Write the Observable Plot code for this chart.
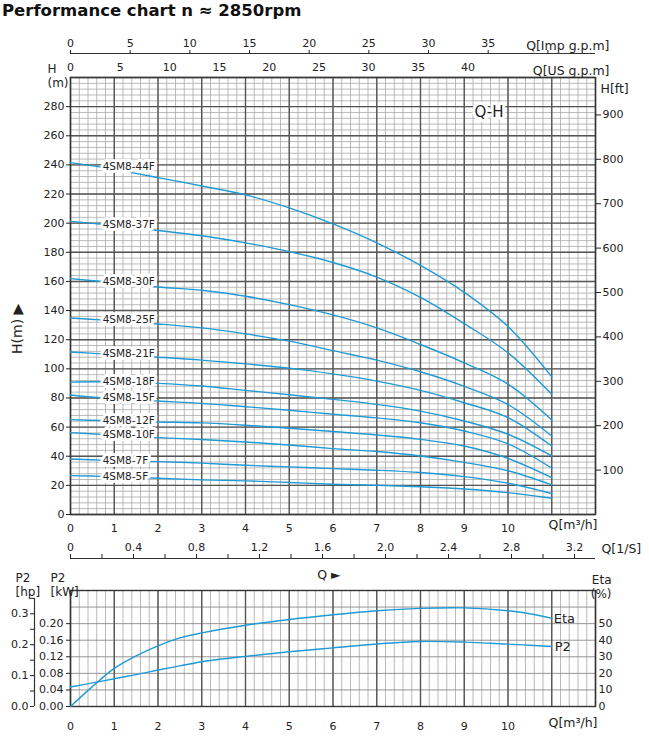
<!DOCTYPE html>
<html><head><meta charset="utf-8">
<script src="https://cdn.jsdelivr.net/npm/d3@7"></script>
<script src="https://cdn.jsdelivr.net/npm/@observablehq/plot@0.6"></script>
<style>
html,body{margin:0;padding:0;background:#fff;overflow:hidden}
#title{height:28px;font-family:"DejaVu Sans",sans-serif;font-weight:bold;font-size:16.5px;line-height:21px;padding-left:2px;color:#111;white-space:nowrap}
svg{display:block}
</style></head><body>
<div id="title">Performance chart n ≈ 2850rpm</div>
<div id="topchart"></div>
<div id="bottomchart"></div>
<script>
// ---------- data ----------
const flowQ = [0, 0.7, 2, 3, 4, 5, 6, 7, 8, 9, 10, 11];           // m³/h
const models = ["4SM8-44F","4SM8-37F","4SM8-30F","4SM8-25F","4SM8-21F","4SM8-18F","4SM8-15F","4SM8-12F","4SM8-10F","4SM8-7F","4SM8-5F"];
const head44F = [241.6, 238.5, 231.3, 225.5, 219.4, 210.5, 199.5, 186.5, 171, 152.5, 129, 94.5];
const head37F = [201.2, 199.3, 195, 191.4, 186.5, 180.5, 173, 163, 149, 131, 111, 82.5];
const head30F = [161.9, 160, 156.2, 153.9, 149.8, 144.1, 137, 128.1, 116.7, 104.1, 89.5, 64.9];
const head25F = [134.9, 133.6, 130.8, 128.1, 124, 119, 112.5, 106, 98, 88, 75.5, 53.9];
const head21F = [111.6, 110.3, 108, 106, 103.4, 100.5, 96.5, 91.6, 85.2, 76.7, 66.5, 47];
const head18F = [90.9, 91.1, 90, 88.2, 85.2, 82.2, 79, 75.6, 71, 64.2, 55.1, 40.2];
const head15F = [82, 80.1, 77.9, 76.3, 74, 71.6, 68.8, 66.3, 63, 57.3, 48.5, 31.8];
const head12F = [65.1, 64.5, 63.5, 62.9, 61.3, 59.2, 57, 54.6, 51.6, 47, 38.5, 25.3];
const head10F = [56.2, 55, 52.8, 51.5, 49.8, 47.7, 45.2, 43.2, 40.2, 35.8, 30, 20.3];
const head7F  = [38.1, 37.3, 36.3, 35.3, 33.8, 32.7, 31.5, 30.4, 28.8, 26, 21.5, 14.4];
const head5F  = [26.7, 26.2, 24.9, 23.8, 23.1, 22, 20.8, 20.1, 19, 17.5, 15, 11.2];
const heads = [head44F, head37F, head30F, head25F, head21F, head18F, head15F, head12F, head10F, head7F, head5F];
const labelFlow = 0.7;

const perfQ = [0, 0.5, 1, 1.5, 2, 2.5, 3, 4, 5, 6, 7, 8, 9, 10, 10.5, 11];
const etaPct = [0, 12, 23, 30.6, 36.6, 41.4, 44.4, 49, 52.5, 55.4, 57.8, 59.2, 59.5, 57.8, 56, 53.2];
const p2kW = [0.047, 0.057, 0.067, 0.077, 0.088, 0.098, 0.108, 0.121, 0.132, 0.1415, 0.151, 0.157, 0.1555, 0.1505, 0.148, 0.145];

// tick labels
const hTicks = [0,20,40,60,80,100,120,140,160,180,200,220,240,260,280];
const ftTicks = [100,200,300,400,500,600,700,800,900];
const qTicks = [0,1,2,3,4,5,6,7,8,9,10];
const usTicks = [0,5,10,15,20,25,30,35,40];
const impTicks = [0,5,10,15,20,25,30,35,40];
const lsTicks = [0,0.2,0.4,0.6,0.8,1.0,1.2,1.4,1.6,1.8,2.0,2.2,2.4,2.6,2.8,3.0,3.2];
const kwTicks = [0,0.04,0.08,0.12,0.16,0.20];
const hpTicks = [0,0.05,0.1,0.15,0.2,0.25,0.3,0.35];
const etaTicks = [0,10,20,30,40,50];

// unit conversions
const M3H_PER_USGPM = 1/4.403, M3H_PER_IMPGPM = 1/3.666, M3H_PER_LS = 3.6, M_PER_FT = 0.3048, KW_PER_HP = 0.7457, ETA_PER_KW = 250;

// scales
const qDomain = [0, 12], hDomain = [0, 300], kwDomain = [0, 0.28];
const qMinor = d3.range(0, 12.0001, 0.2), qMajor = d3.range(0, 12.0001, 1);
const hMinor = d3.range(0, 300.01, 4), hMajor = d3.range(0, 300.01, 20);
const kwGrid = d3.range(0, 0.2801, 0.04);

// tables
const curves = [];
models.forEach((m, i) => flowQ.forEach((q, j) => curves.push({model: m, q, h: heads[i][j]})));
const perf = perfQ.map((q, i) => ({q, eta: etaPct[i], kw: p2kW[i]}));

const blue = "#1f9ad6";
const font = "DejaVu Sans, sans-serif";
const minor = {stroke: "#a8a8a8", strokeWidth: 0.8};
const major = {stroke: "#555", strokeWidth: 1.4};
const lbl = (s, o) => Plot.text([s], {text: d => d, fontSize: 12.5, fill: "#222", ...o});

// ---------- top chart ----------
const W = 649, topH = 532, topMT = 49, topMB = 46, ML = 70, MR = 54;
const plotH = topH - topMT - topMB;

const topChart = Plot.plot({
  width: W, height: topH, marginTop: topMT, marginBottom: topMB, marginLeft: ML, marginRight: MR,
  x: {domain: qDomain, label: null}, y: {domain: hDomain, label: null},
  style: {fontFamily: font, fontSize: "11px", color: "#222", background: "white", overflow: "visible"},
  marks: [
    Plot.ruleX(qMinor, minor),
    Plot.ruleY(hMinor, minor),
    Plot.ruleX(qMajor, major),
    Plot.ruleY(hMajor, major),
    Plot.frame({stroke: "#333", strokeWidth: 1.4}),
    Plot.line(curves, {x: "q", y: "h", z: "model", stroke: blue, strokeWidth: 1.4, curve: "catmull-rom"}),
    Plot.text(curves.filter(d => d.q === labelFlow), {x: "q", y: "h", text: "model", textAnchor: "start", dx: 1.5,
      fontSize: 10.5, fill: "#222", stroke: "white", strokeWidth: 6}),
    lbl("Q-H", {frameAnchor: "top-right", dx: -92, dy: 29, fontSize: 15, stroke: "white", strokeWidth: 6}),
    Plot.axisY(hTicks, {anchor: "left", tickSize: 4, tickPadding: 2, label: null}),
    Plot.axisY(ftTicks.map(f => f * M_PER_FT), {anchor: "right", tickSize: 5, tickPadding: 2, label: null,
      tickFormat: d => String(Math.round(d / M_PER_FT))}),
    Plot.axisX(qTicks, {anchor: "bottom", tickSize: 0, tickPadding: 9.5, label: null}),
    Plot.axisX(usTicks.map(g => g * M3H_PER_USGPM), {anchor: "top", tickSize: 0, tickPadding: 7, label: null,
      tickFormat: d => String(Math.round(d / M3H_PER_USGPM))}),
    Plot.ruleY([hDomain[1]], {dy: -24, stroke: "#333", strokeWidth: 1.2}),
    Plot.axisX(impTicks.map(g => g * M3H_PER_IMPGPM), {anchor: "top", dy: -24, tickSize: 4, tickPadding: 3, label: null,
      tickFormat: d => { const g = Math.round(d / M3H_PER_IMPGPM); return g === 40 ? "" : String(g); }}),
    Plot.ruleY([hDomain[0]], {dy: 44, stroke: "#333", strokeWidth: 1.2}),
    Plot.axisX(lsTicks.map(l => l * M3H_PER_LS), {anchor: "top", dy: plotH + 44, tickSize: 5, tickPadding: 3, label: null,
      tickFormat: d => { const t = Math.round(d / M3H_PER_LS * 10); return t % 4 ? "" : (t === 0 ? "0" : (t / 10).toFixed(1)); }}),
    lbl("H", {frameAnchor: "top-left", dx: -23, dy: -13.5, fontSize: 12}),
    lbl("(m)", {frameAnchor: "top-left", dx: -23, dy: 1, fontSize: 12}),
    lbl("Q[Imp g.p.m]", {frameAnchor: "top-right", textAnchor: "end", dx: 14, dy: -36}),
    lbl("Q[US g.p.m]", {frameAnchor: "top-right", textAnchor: "end", dx: 14, dy: -11}),
    lbl("H[ft]", {frameAnchor: "top-right", textAnchor: "start", dx: 5, dy: 7}),
    lbl("Q[m³/h]", {frameAnchor: "bottom-right", textAnchor: "end", dx: 2, dy: 14}),
    lbl("Q[1/S]", {frameAnchor: "bottom-right", textAnchor: "start", dx: 6, dy: 38}),
    lbl("H(m) ▶", {frameAnchor: "left", rotate: -90, dx: -53, dy: 58, fontSize: 14})
  ]
});
document.getElementById("topchart").append(topChart);

// ---------- bottom chart ----------
const botH = 186, botMT = 30, botMB = 40;
const bottomChart = Plot.plot({
  width: W, height: botH, marginTop: botMT, marginBottom: botMB, marginLeft: ML, marginRight: MR,
  x: {domain: qDomain, label: null}, y: {domain: kwDomain, label: null},
  style: {fontFamily: font, fontSize: "11px", color: "#222", background: "white", overflow: "visible"},
  marks: [
    Plot.ruleX(qMinor, minor),
    Plot.ruleY(kwGrid, {stroke: "#8a8a8a", strokeWidth: 0.9}),
    Plot.ruleX(qMajor, major),
    Plot.frame({stroke: "#333", strokeWidth: 1.4}),
    Plot.line(perf, {x: "q", y: d => d.eta / ETA_PER_KW, stroke: blue, strokeWidth: 1.4, curve: "catmull-rom"}),
    Plot.line(perf, {x: "q", y: "kw", stroke: blue, strokeWidth: 1.4, curve: "catmull-rom"}),
    Plot.text(perf.slice(-1), {x: "q", y: d => d.eta / ETA_PER_KW, text: () => "Eta", textAnchor: "start", dx: 2, fontSize: 13}),
    Plot.text(perf.slice(-1), {x: "q", y: "kw", text: () => "P2", textAnchor: "start", dx: 3, fontSize: 13}),
    Plot.axisY(kwTicks, {anchor: "left", tickSize: 4, tickPadding: 3, label: null, tickFormat: d3.format(".2f")}),
    Plot.ruleX([qDomain[0]], {dx: -36, y1: 0, y2: hpTicks[hpTicks.length - 1] * KW_PER_HP, stroke: "#333", strokeWidth: 1.2}),
    Plot.axisY(hpTicks.map(h => h * KW_PER_HP), {anchor: "left", dx: -36, tickSize: 4, tickPadding: 2, label: null,
      tickFormat: d => { const t = Math.round(d / KW_PER_HP * 100); return t % 10 ? "" : (t / 100).toFixed(1); }}),
    Plot.axisY(etaTicks.map(e => e / ETA_PER_KW), {anchor: "right", tickSize: 0, tickPadding: 3, label: null,
      tickFormat: d => String(Math.round(d * ETA_PER_KW))}),
    Plot.axisX(qTicks, {anchor: "bottom", tickSize: 0, tickPadding: 16, label: null}),
    lbl("Q[m³/h]", {frameAnchor: "bottom-right", textAnchor: "end", dx: 2, dy: 20}),
    lbl("Q ►", {frameAnchor: "top", dy: -20, dx: -4}),
    lbl("P2", {frameAnchor: "top-left", dx: -55, dy: -17, fontSize: 12}),
    lbl("[hp]", {frameAnchor: "top-left", dx: -55, dy: -3, fontSize: 12}),
    lbl("P2", {frameAnchor: "top-left", dx: -20, dy: -17, fontSize: 12}),
    lbl("[kW]", {frameAnchor: "top-left", dx: -20, dy: -3, fontSize: 12}),
    lbl("Eta", {frameAnchor: "top-right", dx: 16, dy: -15, fontSize: 12}),
    lbl("(%)", {frameAnchor: "top-right", dx: 16, dy: -1, fontSize: 12})
  ]
});
document.getElementById("bottomchart").append(bottomChart);
</script>
</body></html>
